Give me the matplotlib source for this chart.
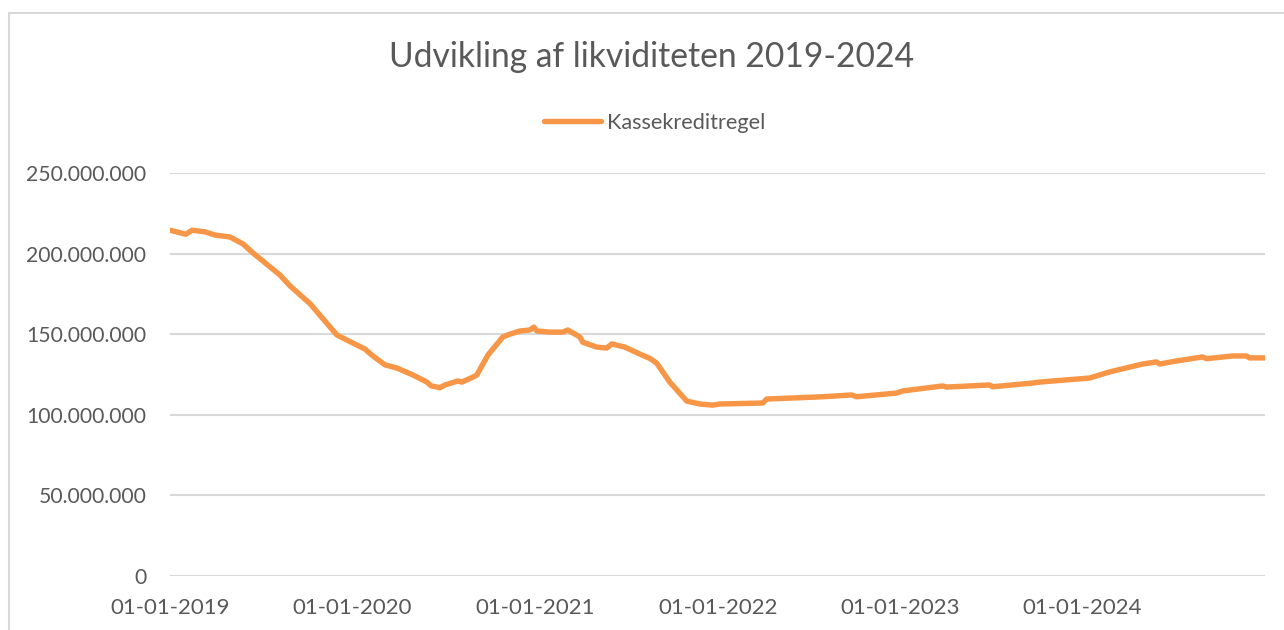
import matplotlib
matplotlib.use("Agg")
import matplotlib.pyplot as plt
import matplotlib.dates as mdates
import matplotlib.ticker as mticker
from matplotlib.patches import Rectangle
import numpy as np

# Values (millions of kroner)
dates = [
    "2019-01-01", "2019-02-02", "2019-02-14", "2019-03-12", "2019-04-01",
    "2019-05-01", "2019-05-27", "2019-06-16", "2019-08-09", "2019-08-29",
    "2019-10-08", "2019-12-01", "2020-01-02", "2020-01-26", "2020-02-09",
    "2020-03-06", "2020-03-30", "2020-05-01", "2020-05-29", "2020-06-06",
    "2020-06-24", "2020-07-04", "2020-07-30", "2020-08-07", "2020-08-29",
    "2020-09-06", "2020-09-28", "2020-10-28", "2020-11-11", "2020-12-01",
    "2020-12-21", "2020-12-29", "2021-01-04", "2021-01-30", "2021-02-25",
    "2021-03-07", "2021-03-31", "2021-04-06", "2021-05-04", "2021-05-24",
    "2021-06-03", "2021-06-29", "2021-07-29", "2021-08-18", "2021-09-01",
    "2021-09-27", "2021-10-31", "2021-11-26", "2021-12-22", "2022-01-05",
    "2022-04-01", "2022-04-09", "2022-06-14", "2022-07-30", "2022-09-26",
    "2022-10-06", "2022-12-25", "2023-01-06", "2023-03-27", "2023-04-04",
    "2023-06-29", "2023-07-05", "2023-09-23", "2023-10-07", "2024-01-15",
    "2024-02-24", "2024-04-30", "2024-05-28", "2024-06-03", "2024-07-07",
    "2024-08-28", "2024-09-05", "2024-10-27", "2024-11-24", "2024-11-30",
    "2024-12-31",
]
values_mio = [
    214.5, 212.0, 214.5, 213.5, 211.5,
    210.3, 206.0, 200.4, 186.7, 180.0,
    169.0, 149.5, 144.5, 140.8, 137.0,
    131.0, 129.0, 124.7, 120.3, 118.0,
    116.8, 118.5, 121.0, 120.3, 123.4,
    124.7, 137.0, 148.3, 150.0, 152.0,
    152.6, 154.4, 152.0, 151.3, 151.3,
    152.6, 148.3, 145.0, 142.0, 141.4,
    144.0, 142.0, 137.7, 135.0, 132.0,
    120.3, 108.5, 106.7, 106.0, 106.7,
    107.3, 109.8, 110.6, 111.2, 112.3,
    111.2, 113.5, 114.8, 117.9, 117.2,
    118.5, 117.4, 119.7, 120.3, 122.8,
    126.6, 131.5, 132.8, 131.5, 133.4,
    135.9, 134.8, 136.5, 136.5, 135.3,
    135.3,
]
series_name = "Kassekreditregel"
chart_title = "Udvikling af likviditeten 2019-2024"
tick_years = [2019, 2020, 2021, 2022, 2023, 2024]

x = np.array(dates, dtype="datetime64[D]")
y = np.array(values_mio) * 1e6

plt.rcParams["font.family"] = ["Lato", "DejaVu Sans"]
grey_text = "#595959"
grid_col = "#d9d9d9"
orange = "#f79646"

fig = plt.figure(figsize=(12.84, 6.3), dpi=100)
ax = fig.add_axes([170 / 1284, 1 - 576 / 630, 1095 / 1284, 403 / 630])

ax.plot(x, y, color=orange, lw=3.9, solid_capstyle="round",
        solid_joinstyle="round", label=series_name)

ax.set_ylim(0, 250e6)
ax.set_xlim(np.datetime64("2019-01-01"), np.datetime64("2024-12-31"))
ax.yaxis.set_major_locator(mticker.MultipleLocator(50e6))
ax.yaxis.set_major_formatter(mticker.FuncFormatter(
    lambda v, p: f"{int(v):,}".replace(",", ".")))
ax.set_xticks([np.datetime64(f"{yr}-01-01") for yr in tick_years])
ax.xaxis.set_major_formatter(mdates.DateFormatter("%d-%m-%Y"))

ax.grid(axis="y", color=grid_col, lw=1.5)
ax.set_axisbelow(True)
for s in ax.spines.values():
    s.set_visible(False)
ax.tick_params(length=0, colors=grey_text)
ax.tick_params(axis="y", pad=17, labelsize=15.2)
ax.tick_params(axis="x", pad=16, labelsize=16)

fig.text(652 / 1284, 1 - 57 / 630, chart_title, ha="center", va="center",
         fontsize=24.2, color=grey_text)
fig.legend(loc="center", bbox_to_anchor=(655 / 1284, 1 - 123 / 630),
           frameon=False, fontsize=15.6, handlelength=2.6, handletextpad=0.3,
           labelcolor=grey_text)

# light chart-area frame, cut by the right and bottom edges like the screenshot
fig.patches.append(Rectangle((9 / 1284, -0.05), 1.1, 1.05 - 13 / 630,
                             transform=fig.transFigure, fill=False,
                             edgecolor=grid_col, lw=1.5))

fig.savefig("out.png", dpi=100, facecolor="white")
